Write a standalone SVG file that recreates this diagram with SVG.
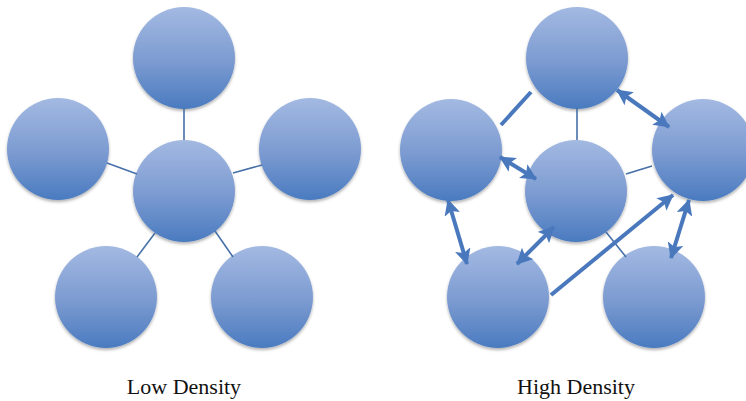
<svg xmlns="http://www.w3.org/2000/svg" width="746" height="401" viewBox="0 0 746 401">
<style>
.node{fill:url(#g);filter:url(#sh)}
.thin{stroke:#4670a8;stroke-width:1.6;fill:none}
.thick{stroke:#4a78bd;stroke-width:4;fill:none}
.lbl{font-family:"Liberation Serif","Times New Roman",serif;font-size:22px;fill:#111;text-anchor:middle}
</style>
<defs>
<linearGradient id="g" x1="0" y1="0" x2="0" y2="1">
<stop offset="0" stop-color="#a3b9e2"/>
<stop offset="0.5" stop-color="#7f9dd2"/>
<stop offset="1" stop-color="#4a7bc0"/>
</linearGradient>
<filter id="sh" x="-20%" y="-20%" width="140%" height="145%">
<feDropShadow dx="0" dy="2" stdDeviation="1.8" flood-color="#000" flood-opacity="0.3"/>
</filter>
<marker id="ah" viewBox="0 0 16 16" refX="15" refY="8" markerWidth="16" markerHeight="16" markerUnits="userSpaceOnUse" orient="auto-start-reverse">
<path d="M0,0 L16,8 L0,16 L3.5,8 z" fill="#4a78bd"/>
</marker>
</defs>
<g id="low-top"><circle class="node" cx="184" cy="58" r="51"/></g>
<g id="low-left"><circle class="node" cx="58" cy="149" r="51"/></g>
<g id="low-right"><circle class="node" cx="310" cy="149" r="51"/></g>
<g id="low-center"><circle class="node" cx="184" cy="191" r="51"/></g>
<g id="low-bottom-left"><circle class="node" cx="106" cy="297" r="51"/></g>
<g id="low-bottom-right"><circle class="node" cx="262" cy="297" r="51"/></g>
<g id="high-top"><circle class="node" cx="577" cy="58" r="51"/></g>
<g id="high-left"><circle class="node" cx="451" cy="150" r="51"/></g>
<g id="high-right"><circle class="node" cx="703" cy="150" r="51"/></g>
<g id="high-center"><circle class="node" cx="576" cy="191" r="51"/></g>
<g id="high-bottom-left"><circle class="node" cx="498" cy="297" r="51"/></g>
<g id="high-bottom-right"><circle class="node" cx="654" cy="297" r="51"/></g>
<g id="connectors">
<line class="thin" x1="184" y1="108" x2="184" y2="140"/>
<line class="thin" x1="107" y1="163" x2="137" y2="174"/>
<line class="thin" x1="233" y1="173" x2="262" y2="165"/>
<line class="thin" x1="155" y1="233" x2="137" y2="257"/>
<line class="thin" x1="215" y1="231" x2="233" y2="257"/>
<line class="thin" x1="577" y1="108" x2="577" y2="140"/>
<line class="thin" x1="626" y1="174" x2="652" y2="166"/>
<line class="thin" x1="606" y1="232" x2="626" y2="257"/>
<line class="thick" x1="501" y1="125" x2="531" y2="92"/>
<line class="thick" x1="617" y1="90" x2="669" y2="127" marker-start="url(#ah)" marker-end="url(#ah)"/>
<line class="thick" x1="500" y1="157" x2="536" y2="179" marker-start="url(#ah)" marker-end="url(#ah)"/>
<line class="thick" x1="448" y1="200" x2="467" y2="264" marker-start="url(#ah)" marker-end="url(#ah)"/>
<line class="thick" x1="517" y1="264" x2="554" y2="227" marker-start="url(#ah)" marker-end="url(#ah)"/>
<line class="thick" x1="551" y1="295" x2="673" y2="195" marker-end="url(#ah)"/>
<line class="thick" x1="689" y1="200" x2="671" y2="258" marker-start="url(#ah)" marker-end="url(#ah)"/>
</g>
<g id="labels">
<text class="lbl" x="184" y="394">Low Density</text>
<text class="lbl" x="576" y="394">High Density</text>
</g>
</svg>
